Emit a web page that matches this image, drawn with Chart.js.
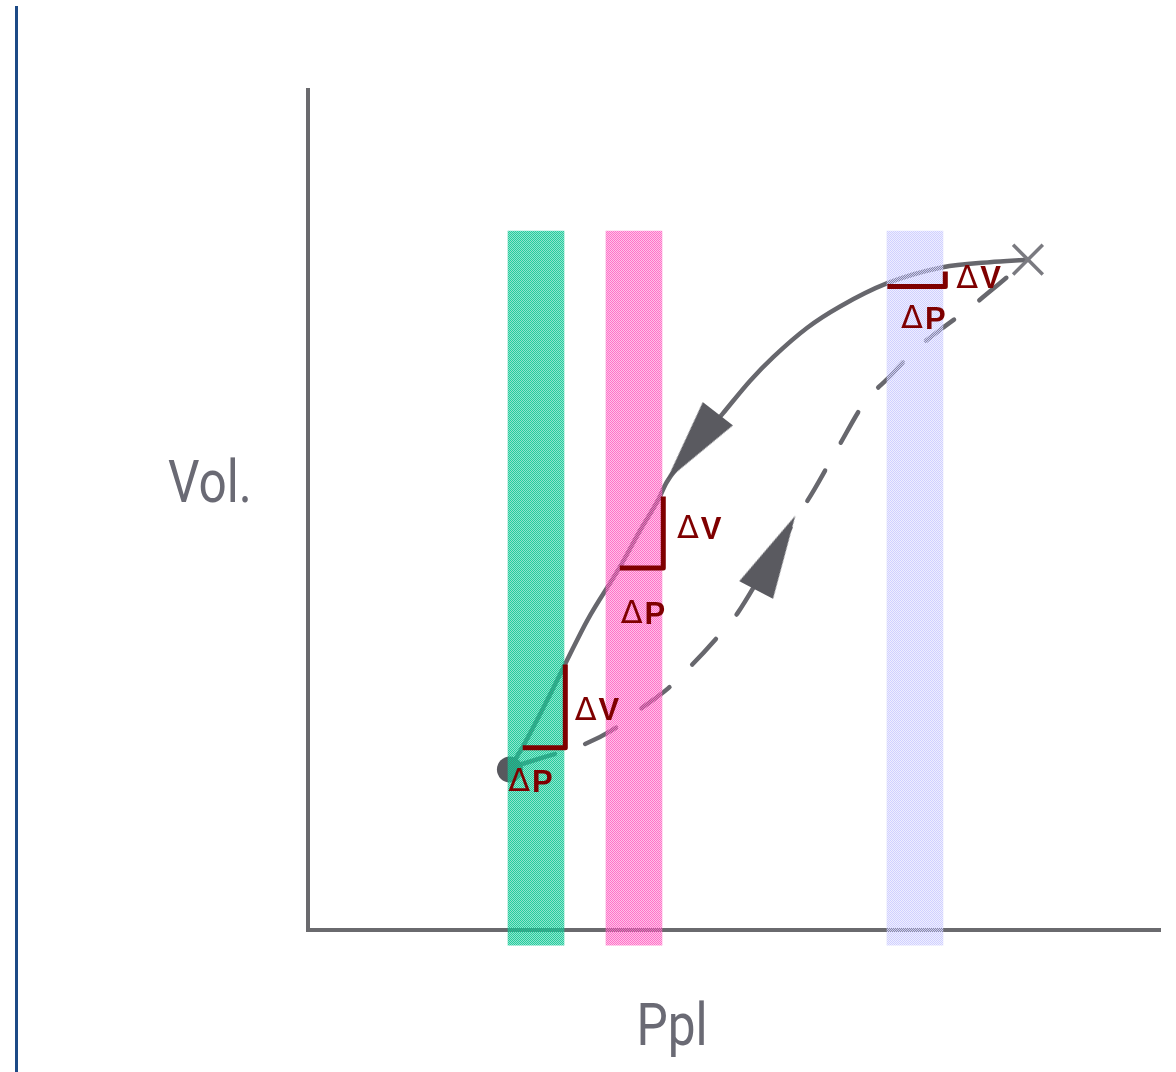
<!DOCTYPE html>
<html><head><meta charset="utf-8">
<script src="https://cdn.jsdelivr.net/npm/chart.js@4/dist/chart.umd.min.js"></script>
<style>
html,body{margin:0;padding:0;background:#fff;}
#wrap{position:relative;width:1176px;height:1072px;overflow:hidden;}
#edge{position:absolute;left:15px;top:6px;width:3px;height:1066px;background:#1d4a86;}
canvas{position:absolute;left:0;top:0;}
</style></head><body>
<div id="wrap"><div id="edge"></div><canvas id="c" width="1176" height="1072"></canvas></div>
<script>
// ---- data (x = Ppl, y = Vol., arbitrary units 0-100) ----
// deflation limb (solid), listed from the start point up to the end point
const deflationX = [23.7, 25.2, 28.1, 30.4, 32.8, 36.6, 39.0, 41.1, 42.1, 45.1, 48.7, 51.9, 54.6, 58.6, 62.4, 68.0, 74.5, 80.0, 84.5];
const deflationY = [19.3, 21.8, 27.4, 32.1, 36.9, 43.2, 47.6, 51.2, 53.3, 57.1, 61.5, 65.4, 68.2, 71.7, 74.2, 77.0, 78.9, 79.5, 79.8];
// inflation limb (dashed)
const inflationX = [23.7, 27.8, 31.7, 35.7, 39.0, 42.3, 45.1, 48.0, 50.4, 53.6, 57.2, 59.4, 62.3, 65.4, 68.2, 71.2, 74.4, 77.6, 81.2, 84.5];
const inflationY = [19.3, 20.6, 21.8, 23.8, 26.3, 28.8, 31.6, 34.8, 37.7, 43.0, 48.8, 52.4, 57.6, 62.9, 65.8, 69.0, 71.6, 74.0, 77.0, 79.8];

const bandNames = ['low', 'mid', 'high'];
const bandCenter = [26.76, 38.26, 71.24];
const bandLow = [-1.8, -1.8, -1.8];
const bandHigh = [83.2, 83.2, 83.2];

// ΔP / ΔV step markers: left x, right x, bottom y, top y
const stepLeftX = [25.2, 36.6, 68.0];
const stepRightX = [30.2, 41.7, 74.8];
const stepBottomY = [21.7, 43.1, 76.6];
const stepTopY = [31.6, 51.6, 78.4];

const dvLabelX = [31.3, 43.3, 76.1];
const dvLabelY = [26.0, 47.6, 77.4];
const dpLabelX = [23.5, 36.7, 69.6];
const dpLabelY = [17.5, 37.5, 72.6];

const startPoint = [23.7, 19.1];
const endPoint = [84.5, 79.8];
const deflationArrow = [45.1, 57.5];
const inflationArrow = [54.9, 44.9];

const xTitle = 'Ppl';
const yTitle = 'Vol.';

// ---- helpers ----
function checker(c1, c2) {
  const cv = document.createElement('canvas');
  cv.width = 2; cv.height = 2;
  const g = cv.getContext('2d');
  g.fillStyle = c1; g.fillRect(0, 0, 1, 1); g.fillRect(1, 1, 1, 1);
  g.fillStyle = c2; g.fillRect(1, 0, 1, 1); g.fillRect(0, 1, 1, 1);
  return g.createPattern(cv, 'repeat');
}
function arrowHead(color) {
  const cv = document.createElement('canvas');
  cv.width = 84; cv.height = 40;
  const g = cv.getContext('2d');
  g.fillStyle = color;
  g.beginPath(); g.moveTo(84, 20); g.lineTo(0, 1); g.lineTo(0, 39); g.closePath(); g.fill();
  return cv;
}
const zip = (xs, ys) => xs.map((x, i) => ({x, y: ys[i]}));

const ctx = document.getElementById('c').getContext('2d');
const bandFill = [
  checker('rgba(20,200,150,0.92)', 'rgba(20,200,150,0.48)'),
  checker('rgba(255,100,195,0.9)', 'rgba(255,100,195,0.4)'),
  checker('rgba(205,205,255,0.95)', 'rgba(205,205,255,0.35)')
];
const curveColor = '#67676d';
const stepColor = '#7f0000';

const stepDatasets = stepLeftX.map((lx, i) => ({
  type: 'line',
  data: [{x: lx, y: stepBottomY[i]}, {x: stepRightX[i], y: stepBottomY[i]}, {x: stepRightX[i], y: stepTopY[i]}],
  borderColor: stepColor, borderWidth: 5, pointRadius: 0, tension: 0, fill: false,
  borderJoinStyle: 'round', order: 2, clip: false
}));

function deltaLabel(ctx, letter, px, py) {
  ctx.font = '32px "DejaVu Sans", sans-serif';
  ctx.fillText('\u0394', px, py);
  const w = ctx.measureText('\u0394').width;
  ctx.font = 'bold 31px "Liberation Sans", Arial, sans-serif';
  ctx.fillText(letter, px + w + 2, py);
}

const labelPlugin = {
  id: 'labels',
  afterDatasetsDraw(chart) {
    const {ctx, scales: {x, y}} = chart;
    ctx.save();
    ctx.fillStyle = stepColor;
    ctx.textBaseline = 'middle';
    ctx.textAlign = 'left';
    for (let i = 0; i < dvLabelX.length; i++) {
      deltaLabel(ctx, 'V', x.getPixelForValue(dvLabelX[i]), y.getPixelForValue(dvLabelY[i]));
      deltaLabel(ctx, 'P', x.getPixelForValue(dpLabelX[i]), y.getPixelForValue(dpLabelY[i]));
    }
    ctx.restore();
  },
  afterDraw(chart) {
    const {ctx, chartArea} = chart;
    ctx.save();
    ctx.fillStyle = '#6a6a74';
    ctx.font = '59px Roboto, "Open Sans", sans-serif';
    ctx.textAlign = 'center';
    ctx.textBaseline = 'alphabetic';
    ctx.save();
    ctx.translate(chartArea.left - 98, 502);
    ctx.scale(0.84, 1);
    ctx.fillText(yTitle, 0, 0);
    ctx.restore();
    ctx.save();
    ctx.translate(672, chartArea.bottom + 115);
    ctx.scale(0.84, 1);
    ctx.fillText(xTitle, 0, 0);
    ctx.restore();
    ctx.restore();
  }
};

new Chart(ctx, {
  type: 'scatter',
  data: {
    datasets: [
      {
        type: 'line', label: 'deflation',
        data: zip(deflationX, deflationY),
        borderColor: curveColor, borderWidth: 4.5, pointRadius: 0, cubicInterpolationMode: 'monotone', fill: false, order: 10,
        borderCapStyle: 'round'
      },
      {
        type: 'line', label: 'inflation',
        data: zip(inflationX, inflationY),
        borderColor: curveColor, borderWidth: 4.5, pointRadius: 0, cubicInterpolationMode: 'monotone', fill: false, order: 11,
        borderDash: [35, 32], borderDashOffset: -12, borderCapStyle: 'round'
      },
      {
        label: 'start',
        data: [{x: startPoint[0], y: startPoint[1]}],
        pointStyle: 'circle', pointRadius: 13, backgroundColor: '#58585e', borderColor: '#58585e', borderWidth: 0, order: 9
      },
      {
        type: 'bar', label: 'bands',
        data: bandNames.map((n, i) => ({x: bandCenter[i], y: [bandLow[i], bandHigh[i]]})),
        backgroundColor: bandFill, borderWidth: 0, barThickness: 56, clip: false, order: 5, grouped: false
      },
      ...stepDatasets,
      {
        label: 'deflationArrow',
        data: [{x: deflationArrow[0], y: deflationArrow[1]}],
        pointStyle: arrowHead('#5a5a60'), pointRotation: 127.6, order: 1
      },
      {
        label: 'inflationArrow',
        data: [{x: inflationArrow[0], y: inflationArrow[1]}],
        pointStyle: arrowHead('#5a5a60'), pointRotation: -62.2, order: 1
      },
      {
        label: 'end',
        data: [{x: endPoint[0], y: endPoint[1]}],
        pointStyle: 'crossRot', pointRadius: 21, borderColor: '#7a7a80', borderWidth: 3.5, order: 1
      }
    ]
  },
  options: {
    responsive: false,
    animation: false,
    events: [],
    layout: {autoPadding: false, padding: {left: 308, top: 90, right: 16, bottom: 142}},
    plugins: {legend: {display: false}, tooltip: {enabled: false}},
    scales: {
      x: {
        type: 'linear', min: 0, max: 100, offset: false,
        grid: {display: false, drawTicks: false, offset: false},
        ticks: {display: false},
        border: {display: true, color: '#6a6a6e', width: 4}
      },
      y: {
        type: 'linear', min: 0, max: 100, offset: false,
        grid: {display: false, drawTicks: false},
        ticks: {display: false},
        border: {display: true, color: '#6a6a6e', width: 4}
      }
    }
  },
  plugins: [labelPlugin]
});
</script>
</body></html>
